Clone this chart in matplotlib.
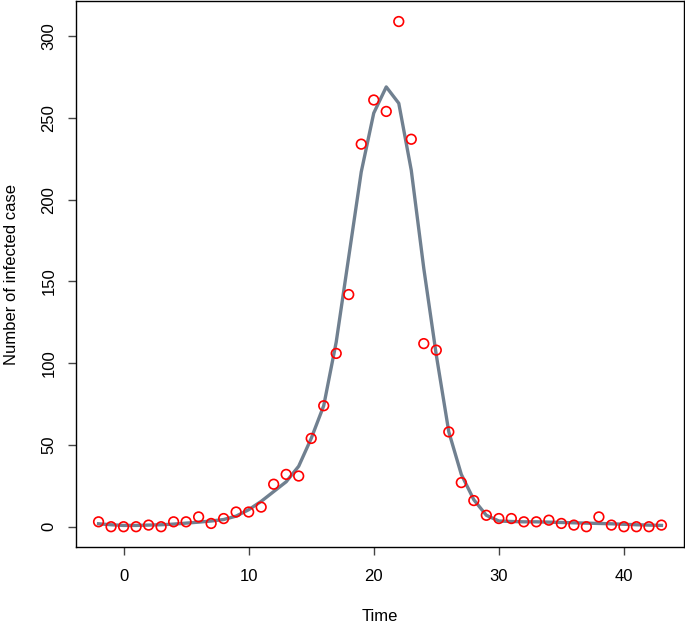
import matplotlib
matplotlib.use("Agg")
import matplotlib.pyplot as plt

# observed daily cases
time = list(range(-2, 44))
cases = [3, 0, 0, 0, 1, 0, 3, 3, 6, 2, 5, 9, 9, 12, 26, 32, 31, 54, 74, 106,
         142, 234, 261, 254, 309, 237, 112, 108, 58, 27, 16, 7, 5, 5, 3, 3,
         4, 2, 1, 0, 6, 1, 0, 0, 0, 1]

# fitted curve
fitted = [1.8, 1.2, 0.8, 0.8, 1.0, 1.2, 1.6, 2.2, 2.8, 3.5, 4.4, 6.5, 10.4,
          15.5, 21.5, 27.5, 37, 54, 74, 113, 165, 217, 253, 269, 259, 218,
          158, 105, 58, 32, 16.5, 7, 3.5, 3.2, 3.0, 3.0, 2.8, 2.6, 2.4, 2.2,
          2.0, 1.8, 1.5, 1.2, 1.0, 0.8]

xticks = [0, 10, 20, 30, 40]
yticks = [0, 50, 100, 150, 200, 250, 300]

plt.rcParams['font.family'] = ['Liberation Sans', 'DejaVu Sans']

fig = plt.figure(figsize=(6.85, 6.24), dpi=100)
ax = fig.add_axes([0.111, 0.1234, 0.8875, 0.8746])

ax.plot(time, fitted, color='#708090', linewidth=2.4, zorder=2)
ax.scatter(time, cases, s=48, facecolors='none', edgecolors='#ff0000',
           linewidths=1.2, zorder=3)

ax.set_xlim(-3.8, 44.8)
ax.set_ylim(-12.4, 321.4)
ax.set_xticks(xticks)
ax.set_yticks(yticks)
ax.set_yticklabels([str(v) for v in yticks], rotation=90, va='center')
ax.tick_params(axis='both', direction='out', length=6, width=1,
               color='#444444', labelsize=12)
ax.tick_params(axis='x', pad=10)
ax.tick_params(axis='y', pad=8)
for s in ax.spines.values():
    s.set_linewidth(1)
    s.set_color('black')

ax.set_xlabel('Time', fontsize=12, labelpad=18)
ax.set_ylabel('Number of infected case', fontsize=12, labelpad=16)

fig.savefig('out.png', dpi=100)
plt.close(fig)
